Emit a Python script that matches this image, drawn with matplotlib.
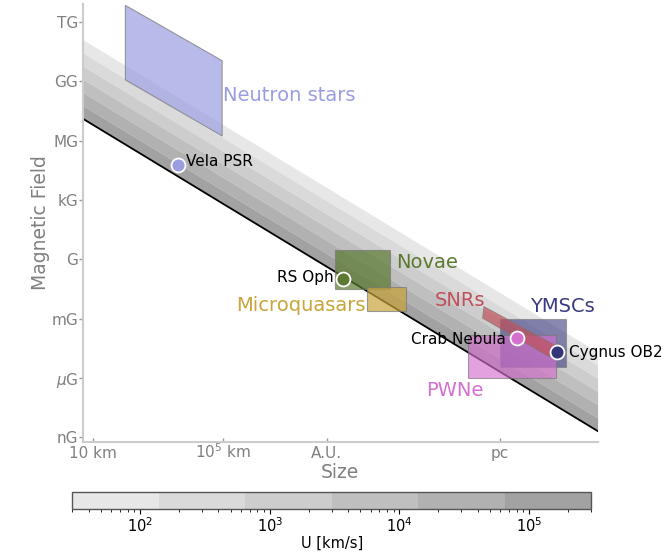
import numpy as np
import matplotlib
matplotlib.use("Agg")
import matplotlib.pyplot as plt
from matplotlib.patches import Polygon, Rectangle
from matplotlib.colors import ListedColormap, LogNorm
from matplotlib.cm import ScalarMappable

# ---------------- data (log10 of size in cm, log10 of B in gauss) ----------------
E_max_eV = 1.9e15                      # Hillas limit energy for the band
U_bounds = [30, 3e5]                   # km/s, colour bar range
n_bins = 6
band_colors = ["#e7e7e7", "#dadada", "#cdcdcd", "#bfbfbf", "#b1b1b1", "#a2a2a2"]

y_tick_vals = [12, 9, 6, 3, 0, -3, -6, -9]
y_tick_labels = ["TG", "GG", "MG", "kG", "G", "mG", r"$\mu$G", "nG"]
x_tick_vals = [6, 10, np.log10(1.496e13), np.log10(3.086e18)]
x_tick_labels = ["10 km", r"$10^5$ km", "A.U.", "pc"]

# Neutron stars parallelogram
ns_logR = [7.0, 7.0, 9.97, 9.97]
ns_logB = [9.07, 12.84, 10.04, 6.23]
# SNR band
snr_logR = [18.0, 20.21, 20.0, 17.96]
snr_logB = [-2.39, -4.37, -4.93, -2.98]
# rectangles: (logR_min, logR_max, logB_min, logB_max)
novae_box = (13.43, 15.13, -1.53, 0.46)
mq_box = (14.40, 15.61, -2.60, -1.41)
pwne_box = (17.50, 20.20, -6.01, -3.81)
ymsc_box = (18.49, 20.51, -5.47, -3.00)

# sources
src_names = ["Vela PSR", "RS Oph", "Crab Nebula", "Cygnus OB2"]
src_logR = [8.63, 13.67, 19.02, 20.23]
src_logB = [4.745, -0.99, -4.00, -4.69]

c_ns = "#9a9de0"
c_nov = "#5b7a2f"
c_mq = "#c9a43a"
c_snr = "#c0505a"
c_pwn = "#d56fce"
c_ymsc = "#3a3a80"
src_colors = [c_ns, c_nov, c_pwn, "#35357a"]

# ---------------- figure ----------------
fig = plt.figure(figsize=(6.64, 5.54), dpi=100)
ax = fig.add_axes([0.125, 0.2016, 0.775, 0.792])
xlim = (5.70, 21.49)
ylim = (-9.26, 12.93)

# Hillas band
K = np.log10(E_max_eV / 300.0)
c_kms = 3e5
logR = np.linspace(xlim[0], xlim[1], 200)
edges = np.linspace(np.log10(U_bounds[0]), np.log10(U_bounds[1]), n_bins + 1)
for i in range(n_bins):
    lo_beta = edges[i] - np.log10(c_kms)
    hi_beta = edges[i + 1] - np.log10(c_kms)
    ax.fill_between(logR, K - logR - hi_beta, K - logR - lo_beta,
                    color=band_colors[i], lw=0, zorder=1)
ax.plot(logR, K - logR, color="black", lw=1.3, zorder=2)

ec = "#777777"
ax.add_patch(Polygon(list(zip(ns_logR, ns_logB)), closed=True, fc=c_ns, ec=ec,
                     lw=0.8, alpha=0.7, zorder=3))
for box, col, al, z in [(novae_box, c_nov, 0.7, 3), (mq_box, c_mq, 0.7, 3.1),
                        (ymsc_box, c_ymsc, 0.6, 3.2), (pwne_box, c_pwn, 0.65, 3.3)]:
    ax.add_patch(Rectangle((box[0], box[2]), box[1] - box[0], box[3] - box[2],
                           fc=col, ec=ec, lw=0.8, alpha=al, zorder=z))
ax.add_patch(Polygon(list(zip(snr_logR, snr_logB)), closed=True, fc=c_snr, ec=ec,
                     lw=0.6, alpha=0.7, zorder=3.4))

for n, r, b, c in zip(src_names, src_logR, src_logB, src_colors):
    ax.plot(r, b, "o", ms=10, mfc=c, mec="white", mew=1.3, zorder=5)

# labels
lab_fs = 14
ax.text(10.0, 8.30, "Neutron stars", color=c_ns, fontsize=lab_fs, ha="left", va="center", zorder=6)
ax.text(15.32, -0.16, "Novae", color=c_nov, fontsize=lab_fs, ha="left", va="center", zorder=6)
ax.text(14.37, -2.35, "Microquasars", color=c_mq, fontsize=lab_fs, ha="right", va="center", zorder=6)
ax.text(16.50, -2.07, "SNRs", color=c_snr, fontsize=lab_fs, ha="left", va="center", zorder=6)
ax.text(19.41, -2.38, "YMSCs", color=c_ymsc, fontsize=lab_fs, ha="left", va="center", zorder=6)
ax.text(16.22, -6.62, "PWNe", color=c_pwn, fontsize=lab_fs, ha="left", va="center", zorder=6)

pt_fs = 11
ax.text(8.87, 4.96, "Vela PSR", fontsize=pt_fs, ha="left", va="center", zorder=6)
ax.text(13.40, -0.95, "RS Oph", fontsize=pt_fs, ha="right", va="center", zorder=6)
ax.text(18.68, -4.08, "Crab Nebula", fontsize=pt_fs, ha="right", va="center", zorder=6)
ax.text(20.62, -4.71, "Cygnus OB2", fontsize=pt_fs, ha="left", va="center", zorder=6)

ax.set_xlim(*xlim)
ax.set_ylim(*ylim)
ax.set_yticks(y_tick_vals)
ax.set_yticklabels(y_tick_labels)
ax.set_xticks(x_tick_vals)
ax.set_xticklabels(x_tick_labels)
for s in ["top", "right"]:
    ax.spines[s].set_visible(False)
for s in ["left", "bottom"]:
    ax.spines[s].set_color("#cccccc")
    ax.spines[s].set_linewidth(1.5)
ax.tick_params(colors="#999999", labelcolor="#808080", labelsize=11, width=1)
ax.tick_params(axis="x", direction="in", length=3, pad=11.5)
ax.tick_params(axis="y", direction="out", length=3, pad=0.5)
for lbl in ax.get_xticklabels():
    lbl.set_verticalalignment("baseline")
ax.set_xlabel("Size", fontsize=13.5, color="#808080", labelpad=1)
ax.set_ylabel("Magnetic Field", fontsize=13.5, color="#808080", labelpad=1)

# colour bar
cax = fig.add_axes([0.109, 0.0812, 0.781, 0.0302])
sm = ScalarMappable(norm=LogNorm(U_bounds[0], U_bounds[1]), cmap=ListedColormap(band_colors))
cb = fig.colorbar(sm, cax=cax, orientation="horizontal")
cb.set_label("U [km/s]", fontsize=10.5, labelpad=0)
cb.outline.set_edgecolor("#555555")
cb.outline.set_linewidth(1.0)
cax.tick_params(labelsize=10.5, pad=2)

fig.savefig("out.png", dpi=100)
